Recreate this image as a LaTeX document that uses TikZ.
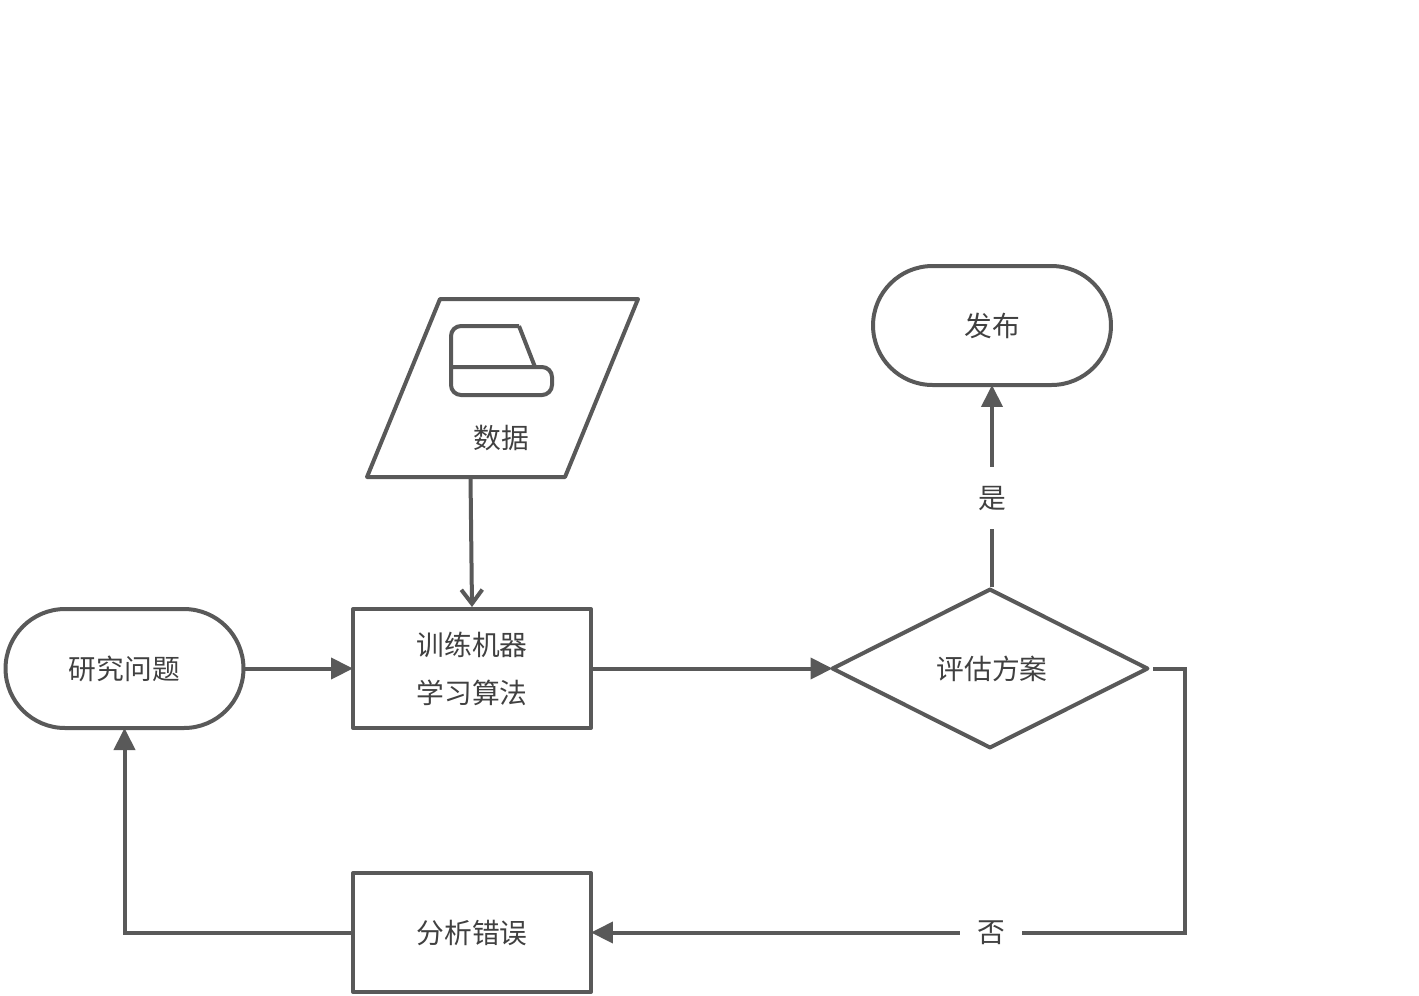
\documentclass[tikz,border=0pt]{standalone}
\usepackage{fontspec}
\setmainfont{Noto Sans CJK SC}
\usepackage{tikz}
\usetikzlibrary{arrows.meta}
\usetikzlibrary{shapes.geometric}
\definecolor{linegray}{HTML}{595959}
\definecolor{textgray}{HTML}{404040}
\tikzset{
    shapeline/.style={draw=linegray, line width=0.08cm, line join=round, outer sep=0pt, text=textgray, font=\fontsize{15.8}{27.2}\selectfont, align=center},
    terminal/.style={shapeline, rectangle, rounded corners=1.19cm, minimum width=4.76cm, minimum height=2.38cm},
    procbox/.style={shapeline, rectangle, minimum width=4.76cm, minimum height=2.38cm},
    conn/.style={draw=linegray, line width=0.08cm},
    solidtip/.style={conn, -{Triangle[length=0.44cm,width=0.42cm]}},
    opentip/.style={conn, -{Straight Barb[length=0.28cm,width=0.42cm,line width=0.08cm]}},
    edgelabel/.style={fill=white, text=textgray, inner xsep=0.34cm, inner ysep=0.37cm, font=\fontsize{15.8}{20}\selectfont}
}
\begin{document}
\begin{tikzpicture}[x=0.02cm, y=-0.02cm]
            \useasboundingbox (0, 0) rectangle (1419, 995);

            \node[terminal] (research) at (124.5, 668.5) {研究问题};
            \node[procbox] (train) at (472, 668.5) {训练机器\\学习算法};
            \node[procbox] (analysis) at (472, 932.5) {分析错误};
            \node[terminal] (publish) at (992, 325.5) {发布};
            \node[shapeline, diamond, shape aspect=2, minimum width=6.3cm, minimum height=3.16cm, inner sep=0pt] (eval) at (990, 668.5) {\hspace{0.08cm}评估方案};

            % Data shape with its drive icon
            \draw[conn, line join=round] (440, 299) -- (638, 299) -- (565, 477) -- (367, 477) -- cycle;
            \draw[conn, rounded corners=0.2cm] (519, 326) -- (451, 326) -- (451, 395) -- (552, 395) -- (552, 367) -- (451, 367);
            \draw[conn] (519, 326) -- (535, 367);
            \node[text=textgray, font=\fontsize{15.8}{20}\selectfont] (data) at (501, 437.5) {数据};

            \coordinate (dataout) at (470.5, 477);
            \coordinate (trainin) at (472, 607);
            \coordinate (evaltop) at (992, 587);
            \coordinate (evalout) at (1153, 668.5);
            \coordinate (evalcorner) at (1185, 668.5);

            \draw[solidtip] (research) -- (train);
            \draw[opentip] (dataout) -- (trainin);
            \draw[solidtip] (train) -- (eval);
            \draw[solidtip] (evaltop) -- node[edgelabel, pos=0.44] (yes) {是} (publish);
            \draw[solidtip] (evalout) -- (evalcorner) |- node[edgelabel, pos=0.663] (no) {否} (analysis);
            \draw[solidtip] (analysis) -| (research);
        \end{tikzpicture}
\end{document}
